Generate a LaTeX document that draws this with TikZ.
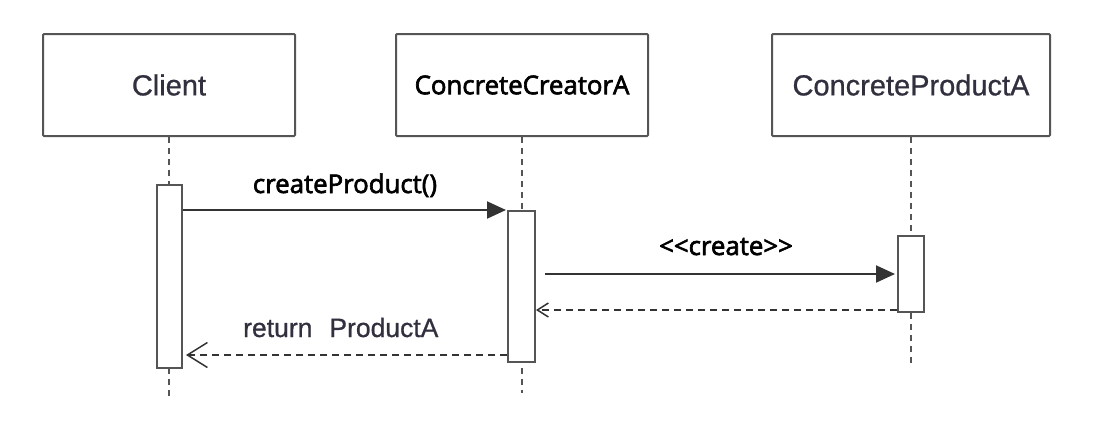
\documentclass[tikz,border=0pt]{standalone}
\usepackage{fontspec}
\setmainfont{Liberation Sans}
\newfontfamily\uifont[FakeBold=2.5]{Open Sans}
\newfontfamily\arialfont[FakeBold=0.8]{Liberation Sans}
\usetikzlibrary{arrows.meta,calc}
\definecolor{boxline}{HTML}{555555}
\definecolor{textgray}{HTML}{30303E}
\definecolor{retline}{HTML}{333333}

\begin{document}
\begin{tikzpicture}[x=1pt,y=-1pt,
  objbox/.style={draw=boxline,line width=2pt,fill=white,minimum height=102pt,inner sep=0pt,rounded corners=1pt},
  actbox/.style={draw=boxline,line width=2pt,fill=white,inner sep=0pt},
  lifeline/.style={draw=boxline,line width=1.6pt,dash pattern=on 6pt off 5pt},
  msg/.style={draw=black!80,line width=2pt,-{Triangle[length=19pt,width=17pt]}},
  ret/.style={draw=retline,line width=1.5pt,dash pattern=on 7pt off 5pt},
  arialtxt/.style={font=\arialfont\fontsize{29}{34}\selectfont,text=textgray},
  uitxt/.style={font=\uifont\fontsize{25.8}{30}\selectfont,text=black},
  rettxt/.style={font=\arialfont\fontsize{26.5}{30}\selectfont,text=textgray}]

\path[use as bounding box] (0,0) rectangle (1116,442);

% objects
\node[objbox,minimum width=252pt,arialtxt] (client) at (169,85) {Client};
\node[objbox,minimum width=252pt,uitxt] (creator) at (522,85) {ConcreteCreatorA};
\node[objbox,minimum width=278pt,arialtxt] (product) at (911,85) {ConcreteProductA};

% lifelines
\coordinate (clientEnd) at (169,400);
\coordinate (creatorEnd) at (522,393);
\coordinate (productEnd) at (911,367);
\draw[lifeline] (client.south) -- (clientEnd);
\draw[lifeline] (creator.south) -- (creatorEnd);
\draw[lifeline] (product.south) -- (productEnd);

% activations
\node[actbox,minimum width=25pt,minimum height=183pt] (clientAct) at (169.5,276.5) {};
\node[actbox,minimum width=27pt,minimum height=151pt] (creatorAct) at (521.5,286.5) {};
\node[actbox,minimum width=26pt,minimum height=76pt] (productAct) at (911,274) {};

% createProduct()
\draw[msg,shorten >=1pt] (clientAct.east |- creatorAct.north) -- (creatorAct.north west);
\node[uitxt,anchor=base] (lblA) at (345,193) {createProduct()};

% <<create>>
\draw[msg,shorten <=9pt,shorten >=2pt] (creatorAct.east |- productAct.west) -- (productAct.west);
\node[uitxt,anchor=base] (lblB) at (726,255) {<\kern0pt<create>\kern0pt>};

% return from product
\coordinate (rA) at ([yshift=3pt]productAct.south west);
\draw[ret,-{Straight Barb[length=11pt,width=14pt]}] (rA) -- (creatorAct.east |- rA);

% return ProductA
\coordinate (rB) at ([yshift=8pt]creatorAct.south west);
\draw[ret,shorten >=3pt,-{Straight Barb[length=20pt,width=25pt]}] (rB) -- (clientAct.east |- rB);
\node[rettxt,anchor=base west,inner sep=0pt] (lblC) at (243,337) {return\hspace{17pt}ProductA};
\end{tikzpicture}
\end{document}
